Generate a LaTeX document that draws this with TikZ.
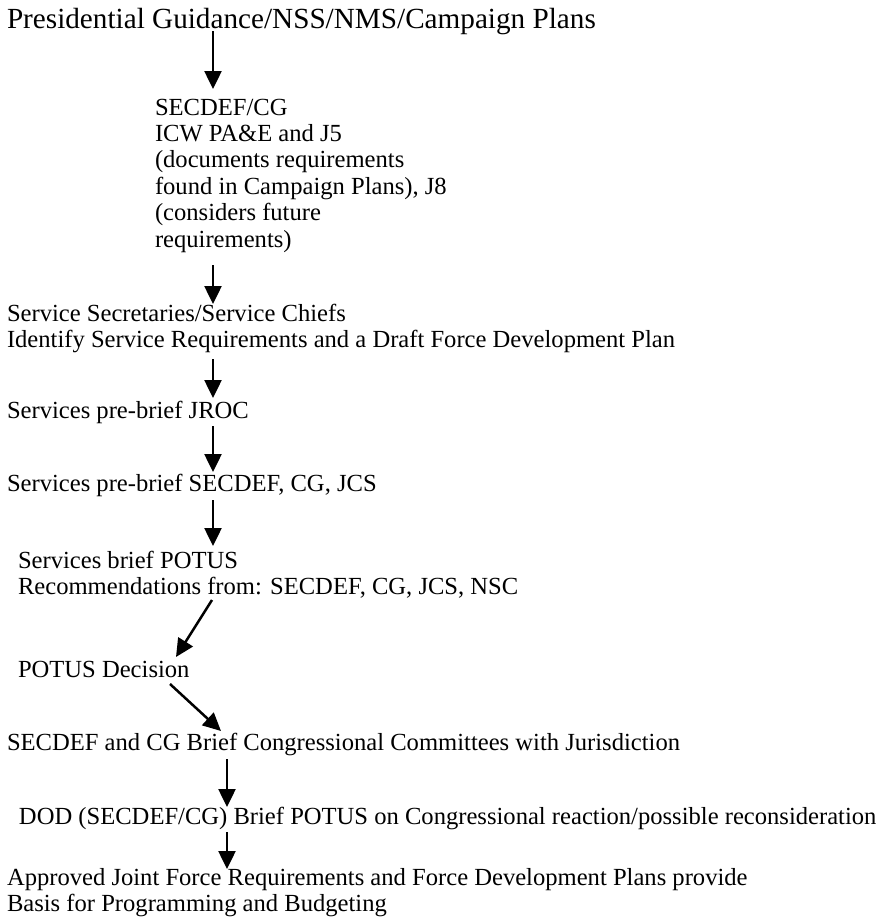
\documentclass[tikz,border=0pt]{standalone}
\usepackage{fontspec}
\setmainfont{Liberation Serif}
\usetikzlibrary{arrows.meta,calc}
\begin{document}
\begin{tikzpicture}[x=1pt,y=-1pt,
  txt/.style={anchor=base west, inner sep=0pt, outer sep=0pt, font=\fontsize{24.6}{26.4}\selectfont},
  ttl/.style={txt, font=\fontsize{29.2}{34}\selectfont},
  arr/.style={line width=2.5pt, -{Triangle[width=17pt,length=18pt]}}]
\useasboundingbox[fill=white] (0,0) rectangle (887,922);
\coordinate (ax) at (213,0);
\coordinate (bx) at (227,0);
\node[ttl] (title) at (7,28) {Presidential Guidance/NSS/NMS/Campaign Plans};
\node[txt] (sec) at (155,115) {\vtop{\hbox{SECDEF/CG}\hbox{ICW PA\&E and J5}\hbox{(documents requirements}\hbox{found in Campaign Plans), J8}\hbox{(considers future}\hbox{requirements)}}};
\node[txt] (svc) at (7,321) {\vtop{\hbox{Service Secretaries/Service Chiefs}\hbox{Identify Service Requirements and a Draft Force Development Plan}}};
\node[txt] (jroc) at (7,418) {Services pre-brief JROC};
\node[txt] (pre) at (7,491) {Services pre-brief SECDEF, CG, JCS};
\node[txt] (potus) at (18,568) {\vtop{\hbox{Services brief POTUS}\hbox{Recommendations from: SECDEF, CG, JCS, NSC}}};
\node[txt] (dec) at (18,677) {POTUS Decision};
\node[txt] (cong) at (7,750) {SECDEF and CG Brief Congressional Committees with Jurisdiction};
\node[txt] (dod) at (19,824) {DOD (SECDEF/CG) Brief POTUS on Congressional reaction/possible reconsideration};
\node[txt] (appr) at (7,885) {\vtop{\hbox{Approved Joint Force Requirements and Force Development Plans provide}\hbox{Basis for Programming and Budgeting}}};
\draw[arr] ($(title.base -| ax)+(0,3)$) -- ($(sec.base -| ax)+(0,-26)$);
\draw[arr] ($(sec.base -| ax)+(0,150)$) -- ($(svc.base -| ax)+(0,-17)$);
\draw[arr] ($(svc.base -| ax)+(0,38)$) -- ($(jroc.base -| ax)+(0,-20)$);
\draw[arr] ($(jroc.base -| ax)+(0,8)$) -- ($(pre.base -| ax)+(0,-19)$);
\draw[arr] ($(pre.base -| ax)+(0,9)$) -- ($(potus.base -| ax)+(0,-22)$);
\draw[arr] ($(potus.base west)+(194,32)$) -- ($(dec.base west)+(158,-20)$);
\draw[arr] ($(dec.base west)+(152,7)$) -- ($(cong.base west)+(214,-19)$);
\draw[arr] ($(cong.base -| bx)+(0,9)$) -- ($(dod.base -| bx)+(0,-17)$);
\draw[arr] ($(dod.base -| bx)+(0,8)$) -- ($(appr.base -| bx)+(0,-16)$);
\end{tikzpicture}
\end{document}
